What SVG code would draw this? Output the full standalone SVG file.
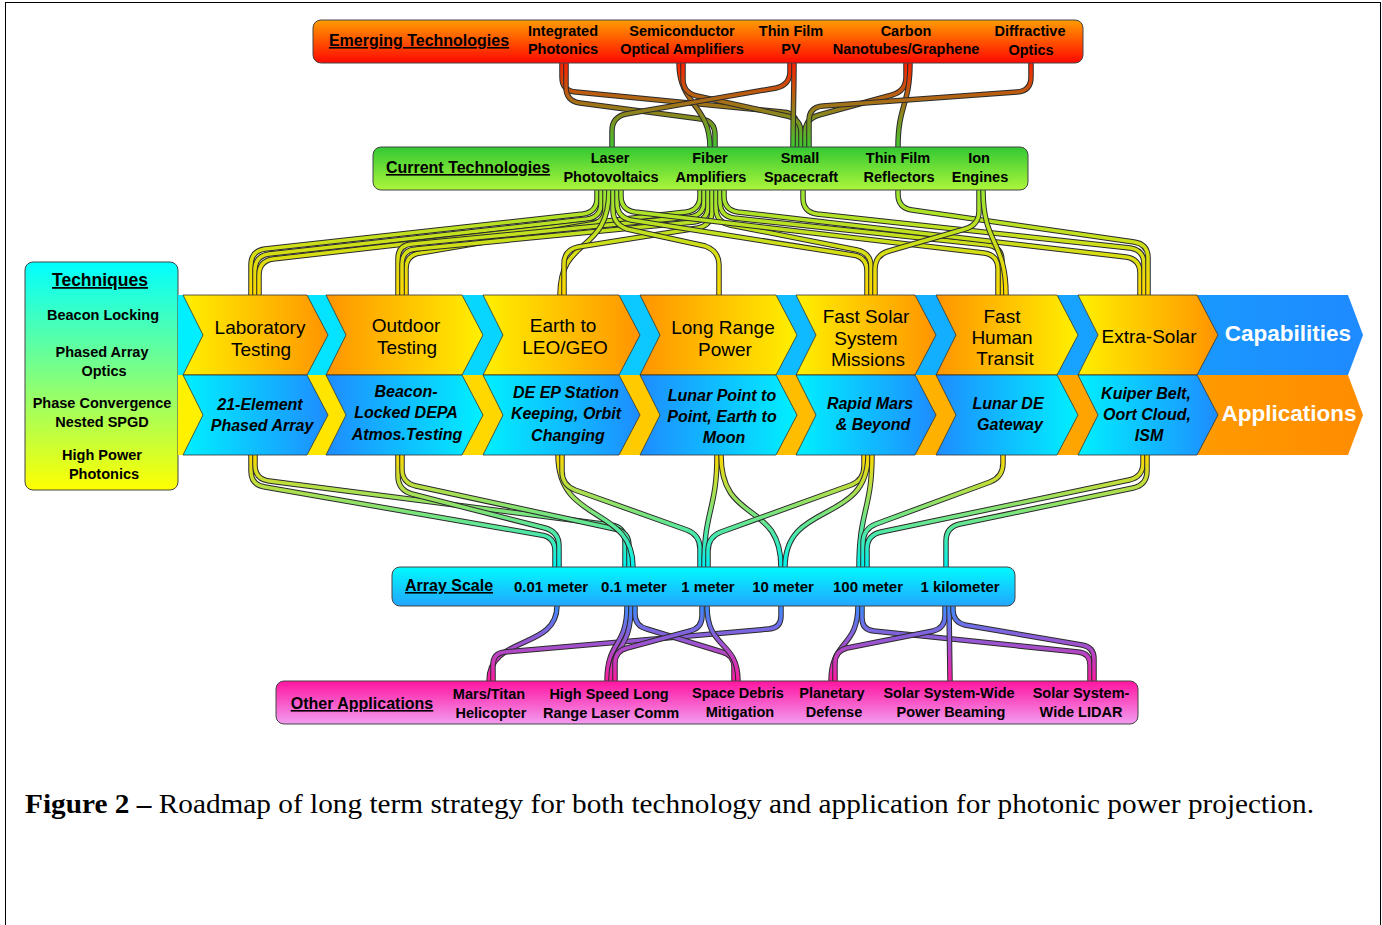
<svg xmlns="http://www.w3.org/2000/svg" xmlns:xlink="http://www.w3.org/1999/xlink" width="1382" height="925" viewBox="0 0 1382 925">
<style>
.s{font-family:"Liberation Sans",Arial,Helvetica,sans-serif;text-anchor:middle;fill:#000}
.b{font-weight:bold}
.it{font-size:14.5px;font-weight:bold}
.h{font-size:16px;font-weight:bold;text-decoration:underline}
.cp{font-size:19px}
.ap{font-size:16px;font-weight:bold;font-style:italic}
.big{font-size:22.5px;font-weight:bold;fill:#fff}
.box{stroke:#444;stroke-width:1}
.chev{stroke:#333;stroke-width:0.8}
.o{fill:none;stroke:#2a2a2a;stroke-width:5.5}
.f1{fill:none;stroke:url(#t1);stroke-width:3.5}
.f2{fill:none;stroke:url(#t2);stroke-width:3.5}
.f3{fill:none;stroke:url(#t3);stroke-width:3.5}
.f4{fill:none;stroke:url(#t4);stroke-width:3.5}
</style>
<defs>
<linearGradient id="gEm" x1="0" y1="0" x2="0" y2="1"><stop offset="0" stop-color="#ff9c00"/><stop offset="1" stop-color="#ff0800"/></linearGradient>
<linearGradient id="gCur" x1="0" y1="0" x2="0" y2="1"><stop offset="0" stop-color="#33c833"/><stop offset="1" stop-color="#acf63a"/></linearGradient>
<linearGradient id="gTech" x1="0" y1="0" x2="0" y2="1"><stop offset="0" stop-color="#00ffff"/><stop offset="1" stop-color="#ffff00"/></linearGradient>
<linearGradient id="gArr" x1="0" y1="0" x2="0" y2="1"><stop offset="0" stop-color="#00faff"/><stop offset="1" stop-color="#22a6ff"/></linearGradient>
<linearGradient id="gOth" x1="0" y1="0" x2="0" y2="1"><stop offset="0" stop-color="#ff14a0"/><stop offset="1" stop-color="#f29cf0"/></linearGradient>
<linearGradient id="bgTop" gradientUnits="userSpaceOnUse" x1="178" y1="0" x2="1363" y2="0"><stop offset="0" stop-color="#00f0ff"/><stop offset="1" stop-color="#1e8aff"/></linearGradient>
<linearGradient id="bgBot" gradientUnits="userSpaceOnUse" x1="178" y1="0" x2="1363" y2="0"><stop offset="0" stop-color="#fff200"/><stop offset="1" stop-color="#ff8c00"/></linearGradient>
<linearGradient id="yo" x1="0" y1="0" x2="1" y2="0"><stop offset="0" stop-color="#fff000"/><stop offset="1" stop-color="#ff9400"/></linearGradient>
<linearGradient id="oy" x1="0" y1="0" x2="1" y2="0"><stop offset="0" stop-color="#ff9400"/><stop offset="1" stop-color="#fff000"/></linearGradient>
<linearGradient id="cb" x1="0" y1="0" x2="1" y2="0"><stop offset="0" stop-color="#00f0ff"/><stop offset="1" stop-color="#1e8cff"/></linearGradient>
<linearGradient id="bc" x1="0" y1="0" x2="1" y2="0"><stop offset="0" stop-color="#1e8cff"/><stop offset="1" stop-color="#00f0ff"/></linearGradient>
<linearGradient id="t1" gradientUnits="userSpaceOnUse" x1="0" y1="63" x2="0" y2="147"><stop offset="0" stop-color="#ff2000"/><stop offset="1" stop-color="#40c830"/></linearGradient>
<linearGradient id="t2" gradientUnits="userSpaceOnUse" x1="0" y1="190" x2="0" y2="295"><stop offset="0" stop-color="#98e634"/><stop offset="1" stop-color="#ffd800"/></linearGradient>
<linearGradient id="t3" gradientUnits="userSpaceOnUse" x1="0" y1="455" x2="0" y2="567"><stop offset="0" stop-color="#ffd800"/><stop offset="1" stop-color="#00f0f0"/></linearGradient>
<linearGradient id="t4" gradientUnits="userSpaceOnUse" x1="0" y1="606" x2="0" y2="681"><stop offset="0" stop-color="#3a8cff"/><stop offset="1" stop-color="#ff1aa0"/></linearGradient>
<path id="e1" d="M562,63 L562,77 Q562,91 576,92 L783,112 Q797,113 797,127 L797,147"/>
<path id="e2" d="M566,63 L566,87 Q566,101 580,103 L701,119 Q715,121 715,135 L715,147"/>
<path id="e3" d="M679,63 C679,105 710,105 710,147"/>
<path id="e4" d="M683,63 L683,79 Q683,93 697,96 L787,116 Q801,119 801,133 L801,147"/>
<path id="e5" d="M790,63 L790,71 Q790,85 776,88 L626,114 Q612,117 612,131 L612,147"/>
<path id="e6" d="M794,63 C794,105 793,105 793,147"/>
<path id="e7" d="M906,63 L906,77 Q906,91 892,95 L819,115 Q805,119 805,133 L805,147"/>
<path id="e8" d="M910,63 C910,105 898,105 898,147"/>
<path id="e9" d="M1031,63 L1031,77 Q1031,91 1017,92 L823,106 Q809,107 809,121 L809,147"/>
<path id="c1" d="M597,190 L597,198 Q597,212 583,214 L265,249 Q251,251 251,265 L251,295"/>
<path id="c2" d="M601,190 L601,203 Q601,217 587,219 L269,254 Q255,256 255,270 L255,295"/>
<path id="c3" d="M700,190 L700,196 Q700,210 686,212 L273,259 Q259,261 259,275 L259,295"/>
<path id="c4" d="M605,190 L605,208 Q605,222 591,224 L420,253 Q406,255 406,269 L406,295"/>
<path id="c5" d="M704,190 L704,201 Q704,215 690,217 L412,244 Q398,245 398,259 L398,295"/>
<path id="c6" d="M708,190 L708,206 Q708,220 694,222 L416,249 Q402,250 402,264 L402,295"/>
<path id="c7" d="M609,190 C609,255 560,235 560,295"/>
<path id="c8" d="M712,190 L712,211 Q712,225 698,228 L578,247 Q564,250 564,264 L564,295"/>
<path id="c9" d="M613,190 L613,210 Q613,224 627,229 L705,246 Q719,251 719,265 L719,295"/>
<path id="c10" d="M617,190 L617,203 Q617,217 631,220 L853,255 Q867,257 867,271 L867,295"/>
<path id="c11" d="M716,190 L716,208 Q716,222 730,225 L857,250 Q871,253 871,267 L871,295"/>
<path id="c12" d="M720,190 L720,202 Q720,216 734,218 L988,245 Q1002,247 1002,261 L1002,295"/>
<path id="c13" d="M621,190 L621,196 Q621,210 635,212 L984,253 Q998,255 998,269 L998,295"/>
<path id="c14" d="M724,190 L724,196 Q724,210 738,212 L1126,257 Q1140,259 1140,273 L1140,295"/>
<path id="c15" d="M803,190 L803,198 Q803,212 817,214 L1130,248 Q1144,250 1144,264 L1144,295"/>
<path id="c16" d="M898,190 L898,194 Q898,208 912,210 L1134,242 Q1148,244 1148,258 L1148,295"/>
<path id="c17" d="M979,190 L979,211 Q979,225 965,229 L889,251 Q875,255 875,269 L875,295"/>
<path id="c18" d="M983,190 C983,245 1006,240 1006,295"/>
<path id="a1" d="M251,455 L251,471 Q251,485 265,487 L541,535 Q555,537 555,551 L555,567"/>
<path id="a2" d="M255,455 L255,465 Q255,479 269,481 L611,525 Q625,527 625,541 L625,567"/>
<path id="a3" d="M398,455 L398,476 Q398,490 412,494 L545,528 Q559,532 559,546 L559,567"/>
<path id="a4" d="M402,455 L402,469 Q402,483 416,486 L615,529 Q629,532 629,546 L629,567"/>
<path id="a5" d="M558,455 C558,525 633,505 633,567"/>
<path id="a6" d="M562,455 L562,471 Q562,485 575,490 L687,530 Q700,535 700,549 L700,567"/>
<path id="a7" d="M717,455 C717,510 704,510 704,567"/>
<path id="a8" d="M721,455 C721,525 781,500 781,567"/>
<path id="a9" d="M864,455 L864,466 Q864,480 851,485 L721,532 Q708,537 708,551 L708,567"/>
<path id="a10" d="M868,455 C868,525 785,500 785,567"/>
<path id="a11" d="M872,455 C872,510 859,510 859,567"/>
<path id="a12" d="M1003,455 L1003,463 Q1003,477 990,482 L876,524 Q863,529 863,543 L863,567"/>
<path id="a13" d="M1143,455 L1143,463 Q1143,477 1129,480 L881,532 Q867,535 867,549 L867,567"/>
<path id="a14" d="M1147,455 L1147,471 Q1147,485 1133,488 L960,524 Q946,527 946,541 L946,567"/>
<path id="s1" d="M557,606 C557,650 489,635 489,681"/>
<path id="s2" d="M781,606 L781,616 Q781,628 769,629 L505,652 Q493,653 493,665 L493,681"/>
<path id="s3" d="M627,606 C627,648 607,640 607,681"/>
<path id="s4" d="M631,606 C631,652 611,644 611,681"/>
<path id="s5" d="M635,606 L635,614 Q635,626 647,629 L722,652 Q734,655 734,667 L734,681"/>
<path id="s6" d="M702,606 L702,616 Q702,628 690,631 L627,648 Q615,651 615,663 L615,681"/>
<path id="s7" d="M707,606 C707,650 738,640 738,681"/>
<path id="s8" d="M858,606 C858,648 831,640 831,681"/>
<path id="s9" d="M862,606 L862,618 Q862,630 874,631 L1078,652 Q1090,653 1090,665 L1090,681"/>
<path id="s10" d="M945,606 L945,616 Q945,628 933,631 L847,648 Q835,651 835,663 L835,681"/>
<path id="s11" d="M949,606 L950,681"/>
<path id="s12" d="M953,606 L953,610 Q953,622 965,625 L1082,645 Q1094,647 1094,659 L1094,681"/>
</defs>

<rect x="0" y="0" width="1382" height="925" fill="#fff"/>
<rect x="5.5" y="2.5" width="1375" height="940" fill="none" stroke="#000" stroke-width="1"/>

<g id="connectors">
<use href="#e1" class="o"/><use href="#e1" class="f1"/>
<use href="#e2" class="o"/><use href="#e2" class="f1"/>
<use href="#e3" class="o"/><use href="#e3" class="f1"/>
<use href="#e4" class="o"/><use href="#e4" class="f1"/>
<use href="#e5" class="o"/><use href="#e5" class="f1"/>
<use href="#e6" class="o"/><use href="#e6" class="f1"/>
<use href="#e7" class="o"/><use href="#e7" class="f1"/>
<use href="#e8" class="o"/><use href="#e8" class="f1"/>
<use href="#e9" class="o"/><use href="#e9" class="f1"/>
<use href="#c1" class="o"/><use href="#c1" class="f2"/>
<use href="#c2" class="o"/><use href="#c2" class="f2"/>
<use href="#c3" class="o"/><use href="#c3" class="f2"/>
<use href="#c4" class="o"/><use href="#c4" class="f2"/>
<use href="#c5" class="o"/><use href="#c5" class="f2"/>
<use href="#c6" class="o"/><use href="#c6" class="f2"/>
<use href="#c7" class="o"/><use href="#c7" class="f2"/>
<use href="#c8" class="o"/><use href="#c8" class="f2"/>
<use href="#c9" class="o"/><use href="#c9" class="f2"/>
<use href="#c10" class="o"/><use href="#c10" class="f2"/>
<use href="#c11" class="o"/><use href="#c11" class="f2"/>
<use href="#c12" class="o"/><use href="#c12" class="f2"/>
<use href="#c13" class="o"/><use href="#c13" class="f2"/>
<use href="#c14" class="o"/><use href="#c14" class="f2"/>
<use href="#c15" class="o"/><use href="#c15" class="f2"/>
<use href="#c16" class="o"/><use href="#c16" class="f2"/>
<use href="#c17" class="o"/><use href="#c17" class="f2"/>
<use href="#c18" class="o"/><use href="#c18" class="f2"/>
<use href="#a1" class="o"/><use href="#a1" class="f3"/>
<use href="#a2" class="o"/><use href="#a2" class="f3"/>
<use href="#a3" class="o"/><use href="#a3" class="f3"/>
<use href="#a4" class="o"/><use href="#a4" class="f3"/>
<use href="#a5" class="o"/><use href="#a5" class="f3"/>
<use href="#a6" class="o"/><use href="#a6" class="f3"/>
<use href="#a7" class="o"/><use href="#a7" class="f3"/>
<use href="#a8" class="o"/><use href="#a8" class="f3"/>
<use href="#a9" class="o"/><use href="#a9" class="f3"/>
<use href="#a10" class="o"/><use href="#a10" class="f3"/>
<use href="#a11" class="o"/><use href="#a11" class="f3"/>
<use href="#a12" class="o"/><use href="#a12" class="f3"/>
<use href="#a13" class="o"/><use href="#a13" class="f3"/>
<use href="#a14" class="o"/><use href="#a14" class="f3"/>
<use href="#s1" class="o"/><use href="#s1" class="f4"/>
<use href="#s2" class="o"/><use href="#s2" class="f4"/>
<use href="#s3" class="o"/><use href="#s3" class="f4"/>
<use href="#s4" class="o"/><use href="#s4" class="f4"/>
<use href="#s5" class="o"/><use href="#s5" class="f4"/>
<use href="#s6" class="o"/><use href="#s6" class="f4"/>
<use href="#s7" class="o"/><use href="#s7" class="f4"/>
<use href="#s8" class="o"/><use href="#s8" class="f4"/>
<use href="#s9" class="o"/><use href="#s9" class="f4"/>
<use href="#s10" class="o"/><use href="#s10" class="f4"/>
<use href="#s11" class="o"/><use href="#s11" class="f4"/>
<use href="#s12" class="o"/><use href="#s12" class="f4"/>
</g>

<g id="emerging">
<rect class="box" x="313" y="20" width="770" height="43" rx="8" fill="url(#gEm)"/>
<text class="s h" x="419" y="46">Emerging Technologies</text>
<text class="s it" x="563" y="36">Integrated</text><text class="s it" x="563" y="54">Photonics</text>
<text class="s it" x="682" y="36">Semiconductor</text><text class="s it" x="682" y="54">Optical Amplifiers</text>
<text class="s it" x="791" y="36">Thin Film</text><text class="s it" x="791" y="54">PV</text>
<text class="s it" x="906" y="36">Carbon</text><text class="s it" x="906" y="54">Nanotubes/Graphene</text>
<text class="s it" x="1030" y="36">Diffractive</text><text class="s it" x="1031" y="55">Optics</text>
</g>

<g id="current">
<rect class="box" x="373" y="147" width="655" height="43" rx="8" fill="url(#gCur)"/>
<text class="s h" x="468" y="173">Current Technologies</text>
<text class="s it" x="610" y="163">Laser</text><text class="s it" x="611" y="182">Photovoltaics</text>
<text class="s it" x="710" y="163">Fiber</text><text class="s it" x="711" y="182">Amplifiers</text>
<text class="s it" x="800" y="163">Small</text><text class="s it" x="801" y="182">Spacecraft</text>
<text class="s it" x="898" y="163">Thin Film</text><text class="s it" x="899" y="182">Reflectors</text>
<text class="s it" x="979" y="163">Ion</text><text class="s it" x="980" y="182">Engines</text>
</g>

<g id="techniques">
<rect class="box" x="25" y="262" width="153" height="228" rx="8" fill="url(#gTech)"/>
<text class="s b" x="100" y="286" style="font-size:17.5px;text-decoration:underline">Techniques</text>
<text class="s it" x="103" y="320">Beacon Locking</text>
<text class="s it" x="102" y="357">Phased Array</text><text class="s it" x="104" y="376">Optics</text>
<text class="s it" x="102" y="408">Phase Convergence</text><text class="s it" x="102" y="427">Nested SPGD</text>
<text class="s it" x="102" y="460">High Power</text><text class="s it" x="104" y="479">Photonics</text>
</g>

<g id="capabilities-band">
<path d="M178,295 H1348 L1363,335 L1348,375 H178 Z" fill="url(#bgTop)"/>
<text class="s big" x="1288" y="341">Capabilities</text>
</g>
<g id="applications-band">
<path d="M178,375 H1348 L1363,415 L1348,455 H178 Z" fill="url(#bgBot)"/>
<text class="s big" x="1289" y="421">Applications</text>
</g>

<g id="cap-lab">
<path class="chev" d="M183,295 L307,295 L328,335 L307,375 L183,375 L203,335 Z" fill="url(#yo)"/>
<text class="s cp" x="260" y="334">Laboratory</text><text class="s cp" x="261" y="356">Testing</text>
</g>
<g id="cap-outdoor">
<path class="chev" d="M326,295 L462,295 L483,335 L462,375 L326,375 L346,335 Z" fill="url(#oy)"/>
<text class="s cp" x="406" y="332">Outdoor</text><text class="s cp" x="407" y="354">Testing</text>
</g>
<g id="cap-earth">
<path class="chev" d="M483,295 L619,295 L640,335 L619,375 L483,375 L503,335 Z" fill="url(#yo)"/>
<text class="s cp" x="563" y="332">Earth to</text><text class="s cp" x="565" y="354">LEO/GEO</text>
</g>
<g id="cap-longrange">
<path class="chev" d="M640,295 L776,295 L797,335 L776,375 L640,375 L660,335 Z" fill="url(#oy)"/>
<text class="s cp" x="723" y="334">Long Range</text><text class="s cp" x="725" y="356">Power</text>
</g>
<g id="cap-fastsolar">
<path class="chev" d="M796,295 L915,295 L936,335 L915,375 L796,375 L816,335 Z" fill="url(#yo)"/>
<text class="s cp" x="866" y="323">Fast Solar</text><text class="s cp" x="866" y="345">System</text><text class="s cp" x="868" y="366">Missions</text>
</g>
<g id="cap-fasthuman">
<path class="chev" d="M936,295 L1057,295 L1078,335 L1057,375 L936,375 L956,335 Z" fill="url(#oy)"/>
<text class="s cp" x="1002" y="323">Fast</text><text class="s cp" x="1002" y="344">Human</text><text class="s cp" x="1005" y="365">Transit</text>
</g>
<g id="cap-extrasolar">
<path class="chev" d="M1078,295 L1197,295 L1218,335 L1197,375 L1078,375 L1098,335 Z" fill="url(#yo)"/>
<text class="s cp" x="1149" y="343">Extra-Solar</text>
</g>

<g id="app-21element">
<path class="chev" d="M183,375 L307,375 L328,415 L307,455 L183,455 L203,415 Z" fill="url(#cb)"/>
<text class="s ap" x="260" y="410">21-Element</text><text class="s ap" x="262" y="431">Phased Array</text>
</g>
<g id="app-beacon">
<path class="chev" d="M326,375 L462,375 L483,415 L462,455 L326,455 L346,415 Z" fill="url(#bc)"/>
<text class="s ap" x="406" y="397">Beacon-</text><text class="s ap" x="406" y="418">Locked DEPA</text><text class="s ap" x="407" y="440">Atmos.Testing</text>
</g>
<g id="app-deep">
<path class="chev" d="M483,375 L619,375 L640,415 L619,455 L483,455 L503,415 Z" fill="url(#cb)"/>
<text class="s ap" x="566" y="398">DE EP Station</text><text class="s ap" x="566" y="419">Keeping, Orbit</text><text class="s ap" x="568" y="441">Changing</text>
</g>
<g id="app-lunarpoint">
<path class="chev" d="M640,375 L776,375 L797,415 L776,455 L640,455 L660,415 Z" fill="url(#bc)"/>
<text class="s ap" x="722" y="401">Lunar Point to</text><text class="s ap" x="722" y="422">Point, Earth to</text><text class="s ap" x="724" y="443">Moon</text>
</g>
<g id="app-rapidmars">
<path class="chev" d="M796,375 L915,375 L936,415 L915,455 L796,455 L816,415 Z" fill="url(#cb)"/>
<text class="s ap" x="870" y="409">Rapid Mars</text><text class="s ap" x="873" y="430">&amp; Beyond</text>
</g>
<g id="app-lunarde">
<path class="chev" d="M936,375 L1057,375 L1078,415 L1057,455 L936,455 L956,415 Z" fill="url(#bc)"/>
<text class="s ap" x="1008" y="409">Lunar DE</text><text class="s ap" x="1010" y="430">Gateway</text>
</g>
<g id="app-kuiper">
<path class="chev" d="M1078,375 L1197,375 L1218,415 L1197,455 L1078,455 L1098,415 Z" fill="url(#cb)"/>
<text class="s ap" x="1146" y="399">Kuiper Belt,</text><text class="s ap" x="1147" y="420">Oort Cloud,</text><text class="s ap" x="1149" y="441">ISM</text>
</g>

<g id="arrayscale">
<rect class="box" x="392" y="567" width="623" height="39" rx="8" fill="url(#gArr)"/>
<text class="s h" x="449" y="591">Array Scale</text>
<text class="s it" x="551" y="592" style="font-size:15px">0.01 meter</text>
<text class="s it" x="634" y="592" style="font-size:15px">0.1 meter</text>
<text class="s it" x="708" y="592" style="font-size:15px">1 meter</text>
<text class="s it" x="783" y="592" style="font-size:15px">10 meter</text>
<text class="s it" x="868" y="592" style="font-size:15px">100 meter</text>
<text class="s it" x="960" y="592" style="font-size:15px">1 kilometer</text>
</g>

<g id="otherapps">
<rect class="box" x="276" y="681" width="862" height="43" rx="8" fill="url(#gOth)"/>
<text class="s h" x="362" y="709">Other Applications</text>
<text class="s it" x="489" y="699">Mars/Titan</text><text class="s it" x="491" y="718">Helicopter</text>
<text class="s it" x="609" y="699">High Speed Long</text><text class="s it" x="611" y="718">Range Laser Comm</text>
<text class="s it" x="738" y="698">Space Debris</text><text class="s it" x="740" y="717">Mitigation</text>
<text class="s it" x="832" y="698">Planetary</text><text class="s it" x="834" y="717">Defense</text>
<text class="s it" x="949" y="698">Solar System-Wide</text><text class="s it" x="951" y="717">Power Beaming</text>
<text class="s it" x="1081" y="698">Solar System-</text><text class="s it" x="1081" y="717">Wide LIDAR</text>
</g>

<text id="caption" x="25" y="813" textLength="1289" lengthAdjust="spacingAndGlyphs" style="font-family:'Liberation Serif','Times New Roman',serif;font-size:28px;fill:#000"><tspan font-weight="bold">Figure 2 –</tspan> Roadmap of long term strategy for both technology and application for photonic power projection.</text>
</svg>
